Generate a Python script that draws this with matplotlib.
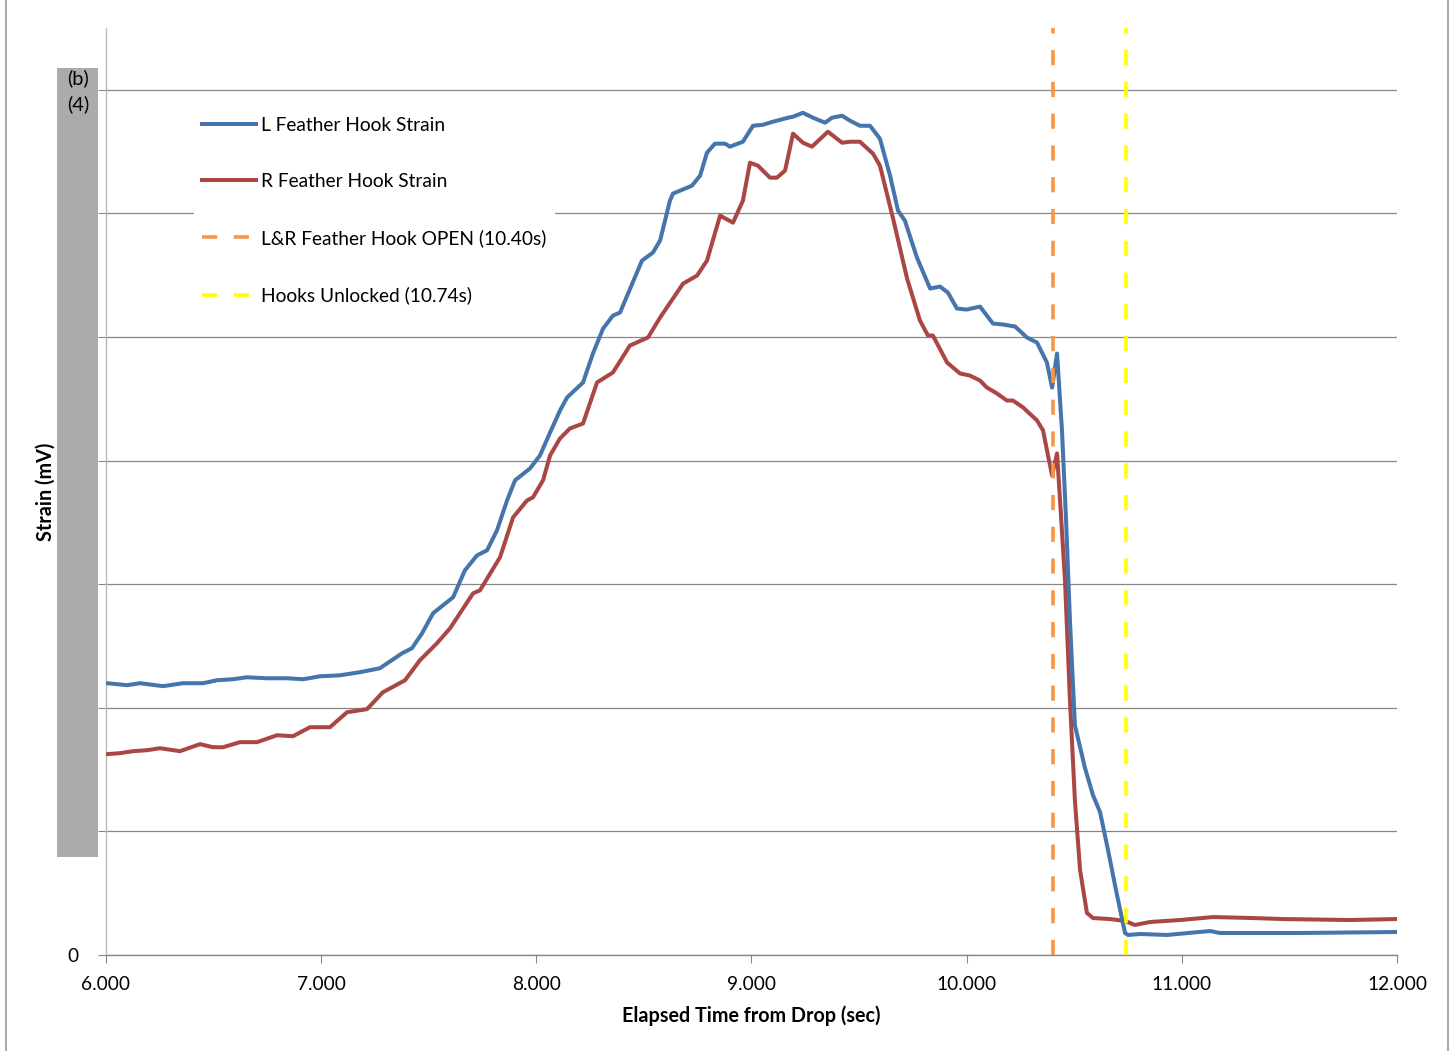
import numpy as np
import matplotlib.pyplot as plt
from matplotlib.patches import Rectangle
from matplotlib.lines import Line2D

plt.rcParams['font.family'] = ['Lato', 'DejaVu Sans']

# --- data ---
t_left = [6.005, 6.098, 6.158, 6.265, 6.358, 6.451, 6.516, 6.590, 6.655, 6.748,
          6.841, 6.916, 6.995, 7.088, 7.180, 7.273, 7.376, 7.422, 7.469, 7.520,
          7.613, 7.668, 7.724, 7.771, 7.817, 7.864, 7.901, 7.971, 8.017, 8.064,
          8.110, 8.143, 8.217, 8.263, 8.310, 8.356, 8.389, 8.491, 8.542, 8.575,
          8.621, 8.635, 8.723, 8.761, 8.793, 8.830, 8.877, 8.900, 8.960, 9.007,
          9.053, 9.100, 9.170, 9.193, 9.239, 9.286, 9.342, 9.374, 9.421, 9.458,
          9.504, 9.551, 9.597, 9.644, 9.681, 9.713, 9.769, 9.830, 9.876, 9.913,
          9.955, 10.001, 10.062, 10.122, 10.169, 10.225, 10.280, 10.327, 10.373,
          10.397, 10.420, 10.443, 10.462, 10.480, 10.503, 10.550, 10.587, 10.620,
          10.657, 10.694, 10.736, 10.750, 10.806, 10.931, 11.131, 11.177, 11.549,
          12.000]
s_left = [2.199, 2.183, 2.199, 2.175, 2.199, 2.199, 2.223, 2.231, 2.247, 2.239,
          2.239, 2.231, 2.255, 2.263, 2.288, 2.320, 2.441, 2.482, 2.603, 2.765,
          2.894, 3.112, 3.233, 3.274, 3.435, 3.678, 3.840, 3.937, 4.042, 4.228,
          4.405, 4.511, 4.632, 4.866, 5.068, 5.173, 5.198, 5.618, 5.683, 5.780,
          6.103, 6.160, 6.224, 6.305, 6.491, 6.564, 6.564, 6.540, 6.580, 6.709,
          6.717, 6.742, 6.774, 6.782, 6.814, 6.774, 6.734, 6.774, 6.790, 6.750,
          6.709, 6.709, 6.604, 6.305, 6.022, 5.941, 5.642, 5.392, 5.408, 5.359,
          5.230, 5.222, 5.246, 5.109, 5.101, 5.085, 4.996, 4.955, 4.793,
          4.591, 4.866, 4.244, 3.516, 2.708, 1.859, 1.512, 1.293, 1.156,
          0.849, 0.525, 0.178, 0.162, 0.170, 0.162, 0.194, 0.178, 0.178,
          0.186]

t_right = [6.005, 6.065, 6.125, 6.191, 6.251, 6.344, 6.437, 6.497, 6.544, 6.623,
           6.702, 6.795, 6.869, 6.948, 7.041, 7.120, 7.213, 7.287, 7.390, 7.459,
           7.538, 7.599, 7.645, 7.706, 7.738, 7.831, 7.892, 7.957, 7.984, 8.031,
           8.064, 8.110, 8.156, 8.217, 8.282, 8.356, 8.435, 8.519, 8.575, 8.682,
           8.747, 8.793, 8.854, 8.914, 8.960, 8.993, 9.030, 9.086, 9.118, 9.156,
           9.193, 9.239, 9.281, 9.355, 9.421, 9.458, 9.504, 9.565, 9.597, 9.658,
           9.723, 9.783, 9.820, 9.843, 9.909, 9.969, 10.015, 10.062, 10.094,
           10.141, 10.187, 10.215, 10.262, 10.327, 10.355, 10.378, 10.397,
           10.420, 10.434, 10.457, 10.480, 10.503, 10.527, 10.559, 10.587,
           10.666, 10.736, 10.782, 10.852, 10.991, 11.145, 11.331, 11.470,
           11.781, 12.000]
s_right = [1.625, 1.633, 1.649, 1.657, 1.673, 1.649, 1.706, 1.681, 1.681, 1.722,
           1.722, 1.778, 1.770, 1.843, 1.843, 1.964, 1.989, 2.126, 2.223, 2.385,
           2.522, 2.643, 2.765, 2.926, 2.950, 3.217, 3.541, 3.678, 3.702, 3.840,
           4.042, 4.179, 4.260, 4.300, 4.632, 4.713, 4.931, 4.996, 5.157, 5.432,
           5.497, 5.618, 5.982, 5.925, 6.103, 6.410, 6.386, 6.289, 6.289, 6.346,
           6.645, 6.572, 6.540, 6.661, 6.572, 6.580, 6.580, 6.483, 6.386, 5.958,
           5.473, 5.133, 5.012, 5.012, 4.793, 4.705, 4.688, 4.648, 4.591,
           4.543, 4.486, 4.486, 4.430, 4.325, 4.244, 4.042, 3.880,
           4.058, 3.678, 3.031, 2.061, 1.253, 0.687, 0.340, 0.299,
           0.291, 0.275, 0.243, 0.267, 0.283, 0.307, 0.299, 0.291,
           0.283, 0.291]

t_open = 10.40
t_unlock = 10.74

x_ticks = [6, 7, 8, 9, 10, 11, 12]
x_labels = ['6.000', '7.000', '8.000', '9.000', '10.000', '11.000', '12.000']
y_ticks = [0, 1, 2, 3, 4, 5, 6, 7]
y_labels = ['0', '', '', '', '', '', '', '']

W, H = 1455, 1051
fig = plt.figure(figsize=(W / 100, H / 100), dpi=100)
ax = fig.add_axes([106 / W, 1 - 955 / H, (1397 - 106) / W, (955 - 28) / H])

blue = '#4674AC'
red = '#AA4643'
orange = '#F79646'
yellow = '#FFFF00'

ax.plot(t_left, s_left, color=blue, lw=2.9, solid_joinstyle='round',
        solid_capstyle='round', zorder=4)
ax.plot(t_right, s_right, color=red, lw=2.9, solid_joinstyle='round',
        solid_capstyle='round', zorder=3)
ax.axvline(t_open, color=orange, lw=2.6, dashes=(4.2, 4.6), zorder=5)
ax.axvline(t_unlock, color=yellow, lw=2.6, dashes=(4.2, 4.6), zorder=5)

ax.set_xlim(6, 12)
ax.set_ylim(0, 7.5)
ax.set_xticks(x_ticks)
ax.set_xticklabels(x_labels, fontsize=13.8)
ax.set_yticks(y_ticks)
ax.set_yticklabels(y_labels, fontsize=13.8)
ax.tick_params(axis='x', direction='out', length=6, width=0.8, color='#888888', pad=9)
ax.tick_params(axis='y', direction='out', length=6, width=0.8, color='#888888', pad=14)
ax.yaxis.grid(True, color='#878787', lw=0.9)
ax.set_axisbelow(True)
for side in ['top', 'right']:
    ax.spines[side].set_visible(False)
ax.spines['left'].set_color('#BBBBBB')
ax.spines['bottom'].set_color('#888888')
ax.spines['left'].set_linewidth(1.0)
ax.spines['bottom'].set_linewidth(1.0)

ax.set_xlabel('Elapsed Time from Drop (sec)', fontsize=14.2, fontweight='bold', labelpad=9)
fig.text(46 / W, 1 - 492 / H, 'Strain (mV)', rotation=90, fontsize=14.2,
         fontweight='bold', ha='center', va='center')

handles = [
    Line2D([], [], color=blue, lw=2.9),
    Line2D([], [], color=red, lw=2.9),
    Line2D([], [], color=orange, lw=2.6, dashes=(4.2, 4.6)),
    Line2D([], [], color=yellow, lw=2.6, dashes=(4.2, 4.6)),
]
labels = ['L Feather Hook Strain', 'R Feather Hook Strain',
          'L&R Feather Hook OPEN (10.40s)', 'Hooks Unlocked (10.74s)']
leg = fig.legend(handles, labels, loc='upper left',
                 bbox_to_anchor=(184 / W, 1 - 99 / H), bbox_transform=fig.transFigure,
                 fontsize=13.8, frameon=True, fancybox=False, framealpha=1,
                 facecolor='white', edgecolor='white', handlelength=2.85,
                 handletextpad=0.25, labelspacing=2.05, borderpad=0.42)
leg.set_zorder(6)

# grey block over the y tick labels, with its annotations
fig.patches.append(Rectangle((57 / W, 1 - 857 / H), 41 / W, (857 - 68) / H,
                             transform=fig.transFigure, facecolor='#ABABAB',
                             edgecolor='none', zorder=7))
fig.text(78 / W, 1 - 78 / H, '(b)', fontsize=14.5, ha='center', va='center', zorder=8)
fig.text(78 / W, 1 - 104 / H, '(4)', fontsize=14.5, ha='center', va='center', zorder=8)

# outer chart frame
fig.add_artist(Line2D([6 / W, 6 / W], [0, 1], color='#9A9A9A', lw=1.2, transform=fig.transFigure))
fig.add_artist(Line2D([1448 / W, 1448 / W], [0, 1], color='#9A9A9A', lw=1.2, transform=fig.transFigure))

fig.savefig('out.png', dpi=100)
